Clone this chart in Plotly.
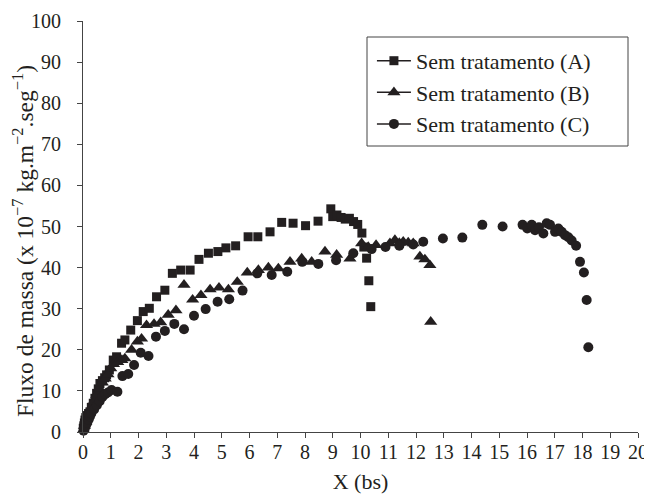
import plotly.graph_objects as go

# Series A (squares)
A_x = [0.01, 0.03, 0.05, 0.07, 0.1, 0.15, 0.2, 0.25, 0.3, 0.37, 0.43, 0.49, 0.55, 0.61, 0.7, 0.78, 0.85, 0.95,
       1.09, 1.21, 1.39, 1.51, 1.72, 1.96, 2.17, 2.39, 2.65, 2.95, 3.22, 3.52, 3.86, 4.18, 4.52, 4.86,
       5.15, 5.5, 5.95, 6.3, 6.74, 7.16, 7.57, 8.02, 8.47, 8.93, 9.0, 9.15, 9.3, 9.45, 9.6, 9.75, 9.9,
       10.05, 10.12, 10.22, 10.3, 10.37]
A_y = [0.9, 1.5, 2.2, 2.9, 3.5, 4.0, 4.5, 4.9, 6.0, 7.0, 8.2, 9.4, 10.5, 11.8, 12.5, 13.2, 13.9, 15.1,
       17.5, 18.3, 21.6, 22.4, 24.8, 27.1, 29.3, 30.1, 32.9, 34.5, 38.6, 39.4, 39.4, 42.0, 43.5, 43.9,
       44.8, 45.3, 47.5, 47.5, 48.7, 51.0, 50.8, 50.2, 51.3, 54.3, 52.4, 52.8, 52.2, 51.8, 52.0, 51.2, 50.5,
       48.4, 45.0, 42.3, 36.8, 30.5]

# Series B (triangles)
B_x = [0.02, 0.05, 0.1, 0.15, 0.2, 0.3, 0.4, 0.5, 0.6, 0.7, 0.8, 0.9, 1.0, 1.1, 1.25, 1.4, 1.51, 1.75,
       1.96, 2.11, 2.29, 2.56, 2.8, 3.07, 3.35, 3.64, 3.95, 4.25, 4.58, 4.9, 5.24, 5.56, 5.92, 6.32, 6.68,
       7.04, 7.46, 7.88, 8.24, 8.72, 9.14, 9.62, 10.04, 10.28, 10.56, 11.06, 11.24, 11.4, 11.54, 11.72,
       11.9, 12.14, 12.32, 12.5, 12.53]
B_y = [0.5, 1.5, 2.5, 3.5, 4.5, 6.0, 7.5, 9.0, 10.5, 12.0, 13.0, 14.0, 15.5, 16.5, 17.0, 17.5, 17.9, 20.0,
       22.0, 22.7, 26.0, 26.3, 26.7, 28.5, 29.6, 35.8, 32.2, 33.3, 34.7, 35.1, 34.7, 36.5, 38.8, 39.4, 40.0,
       39.8, 41.4, 42.2, 41.4, 43.9, 43.1, 42.2, 45.9, 45.0, 45.5, 45.9, 46.7, 46.0, 46.3, 46.1,
       45.9, 42.7, 42.0, 40.6, 26.8]

# Series C (circles)
C_x = [0.02, 0.06, 0.1, 0.15, 0.2, 0.25, 0.3, 0.4, 0.5, 0.6, 0.7, 0.8, 0.9, 1.03, 1.24, 1.42, 1.63, 1.84,
       2.08, 2.36, 2.63, 2.95, 3.29, 3.64, 4.0, 4.42, 4.85, 5.27, 5.75, 6.28, 6.8, 7.36, 7.9, 8.48, 9.12,
       9.74, 10.4, 10.9, 11.4, 11.9, 12.26, 12.97, 13.67, 14.39, 15.12, 15.84, 16.01, 16.17, 16.29, 16.43,
       16.59, 16.71, 16.83, 17.01, 17.13, 17.25, 17.37, 17.49, 17.61, 17.77, 17.91, 18.05, 18.15, 18.21]
C_y = [0.3, 0.8, 1.5, 2.2, 3.0, 3.8, 4.5, 5.5, 6.5, 7.5, 8.5, 9.2, 9.6, 10.2, 9.8, 13.6, 14.1, 16.3,
       19.3, 18.5, 23.2, 24.6, 26.3, 25.0, 28.3, 29.9, 31.7, 32.3, 34.4, 38.6, 38.2, 39.0, 41.4, 40.9, 41.8,
       43.5, 44.5, 45.0, 45.3, 45.6, 46.3, 47.1, 47.3, 50.4, 50.0, 50.4, 49.5, 50.4, 49.1, 49.8,
       48.3, 50.8, 50.4, 48.7, 49.5, 48.7, 47.9, 47.4, 46.6, 45.3, 41.4, 38.8, 32.1, 20.6]

names = ["Sem tratamento (A)", "Sem tratamento (B)", "Sem tratamento (C)"]
x_ticks = list(range(0, 21))
y_ticks = list(range(0, 101, 10))
x_title = "X (bs)"
y_title = "Fluxo de massa (x 10<sup>−7</sup> kg.m<sup>−2</sup>.seg<sup>−1</sup>)"

ink = "#231f20"
FONT = "Liberation Serif"

series = [(A_x, A_y, "square", 9), (B_x, B_y, "triangle-up", 11.5), (C_x, C_y, "circle", 10)]

fig = go.Figure()
for (xs, ys, sym, sz), nm in zip(series, names):
    fig.add_trace(go.Scatter(x=xs, y=ys, mode="markers", showlegend=False,
                             marker=dict(symbol=sym, size=sz, color=ink, line=dict(width=0)),
                             cliponaxis=False))
for (xs, ys, sym, sz), nm in zip(series, names):
    fig.add_trace(go.Scatter(x=[None], y=[None], mode="lines+markers", name=nm,
                             line=dict(color=ink, width=1.5),
                             marker=dict(symbol=sym, size=sz, color=ink)))

# page body has an 8px margin, so the figure is shrunk by 8px and margins adjusted
fig.update_layout(
    width=644, height=492,
    margin=dict(l=75, r=14, t=13, b=68),
    paper_bgcolor="white", plot_bgcolor="white",
    font=dict(family=FONT, size=20, color=ink),
    legend=dict(x=0.5206, y=0.954, xanchor="left", yanchor="top",
                borderwidth=0, bgcolor="rgba(0,0,0,0)",
                font=dict(family=FONT, size=22, color=ink), itemwidth=34,
                tracegroupgap=0),
    xaxis=dict(range=[0, 20], tickmode="array", tickvals=x_ticks,
               ticktext=[str(v) for v in x_ticks], automargin=False,
               showgrid=False, zeroline=False, showline=True, linecolor="#444", linewidth=1,
               ticks="outside", ticklen=5, tickcolor="#444", ticklabelstandoff=-3,
               tickfont=dict(family=FONT, size=20, color=ink),
               title=dict(text=x_title, font=dict(family=FONT, size=22, color=ink), standoff=11)),
    yaxis=dict(range=[0, 100], tickmode="array", tickvals=y_ticks,
               ticktext=[str(v) for v in y_ticks], automargin=False,
               showgrid=False, zeroline=False, showline=True, linecolor="#444", linewidth=1,
               ticks="outside", ticklen=5, tickcolor="#444", ticklabelstandoff=12,
               tickfont=dict(family=FONT, size=20, color=ink)),
)

# legend frame
fig.add_shape(type="rect", xref="paper", yref="paper",
              x0=(367 - 83) / 555, x1=(628 - 83) / 555, y0=(432 - 146) / 411, y1=(432 - 37) / 411,
              line=dict(color="#444", width=1), fillcolor="rgba(0,0,0,0)")

fig.add_annotation(text=y_title, textangle=-90, xref="paper", yref="paper",
                   x=(23 - 83) / 555, y=(432 - 241) / 411, xanchor="center", yanchor="middle",
                   showarrow=False, font=dict(family=FONT, size=23.5, color=ink))

fig.write_html("out.html")
